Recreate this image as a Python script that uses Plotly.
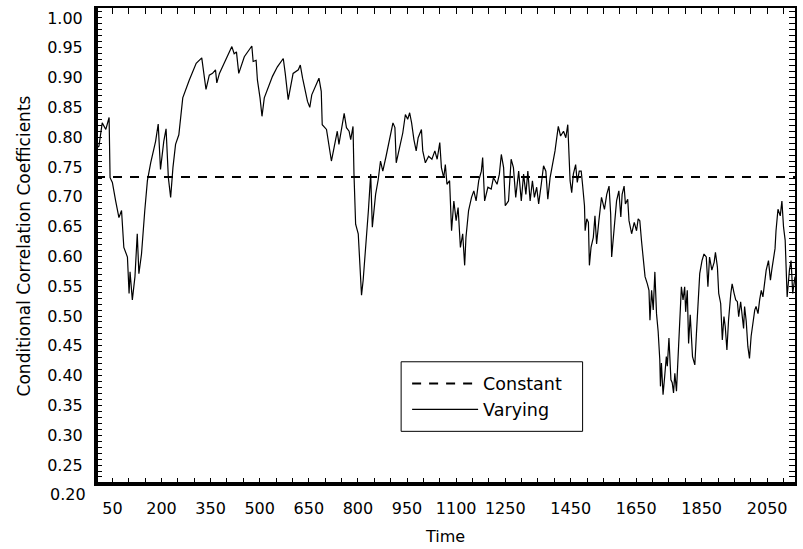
import numpy as np
import plotly.graph_objects as go

# ---- data ----
time = [1, 3, 9, 19, 30, 40, 43, 50, 60, 70, 78, 85, 96, 101, 104, 111, 119, 126, 131, 139,
        149, 157, 167, 174, 182, 190, 197, 207, 214, 221, 228, 235, 243, 253, 265, 285, 306, 323, 328, 336,
        346, 356, 365, 369, 377, 397, 415, 422, 429, 436, 453, 476, 480, 489, 493, 501, 507, 514, 524, 539,
        554, 572, 578, 587, 602, 610, 618, 624, 631, 646, 653, 659, 671, 681, 688, 691, 704, 712, 719, 727,
        737, 742, 758, 765, 773, 778, 785, 788, 793, 801, 808, 811, 816, 824, 832, 839, 844, 854, 862, 869,
        876, 886, 895, 907, 913, 917, 927, 937, 945, 952, 958, 964, 971, 978, 984, 994, 998, 1006, 1016, 1026,
        1035, 1042, 1050, 1055, 1062, 1067, 1072, 1080, 1086, 1093, 1100, 1106, 1113, 1120, 1126, 1130, 1138, 1147, 1154, 1161,
        1169, 1177, 1181, 1187, 1197, 1207, 1214, 1225, 1232, 1238, 1245, 1250, 1260, 1268, 1275, 1282, 1291, 1299, 1306, 1313,
        1319, 1326, 1333, 1339, 1346, 1352, 1360, 1367, 1374, 1380, 1387, 1394, 1402, 1412, 1419, 1428, 1435, 1441, 1445, 1448,
        1453, 1458, 1465, 1470, 1476, 1482, 1486, 1492, 1494, 1499, 1504, 1507, 1512, 1519, 1524, 1529, 1536, 1544, 1553, 1560,
        1567, 1572, 1575, 1583, 1590, 1597, 1603, 1607, 1613, 1617, 1624, 1628, 1636, 1644, 1651, 1656, 1661, 1666, 1671, 1677,
        1684, 1689, 1692, 1697, 1702, 1707, 1712, 1717, 1722, 1724, 1727, 1732, 1737, 1742, 1745, 1750, 1756, 1760, 1764, 1768,
        1773, 1778, 1783, 1788, 1793, 1798, 1801, 1806, 1810, 1815, 1822, 1829, 1834, 1839, 1844, 1851, 1857, 1864, 1869, 1874,
        1881, 1888, 1892, 1898, 1902, 1908, 1913, 1918, 1922, 1927, 1932, 1939, 1943, 1949, 1954, 1959, 1963, 1969, 1973, 1978,
        1981, 1986, 1991, 1996, 2001, 2006, 2012, 2016, 2022, 2027, 2032, 2037, 2042, 2047, 2054, 2060, 2064, 2069, 2074, 2077,
        2083, 2090, 2095, 2100, 2105, 2111, 2118, 2123, 2128, 2135]

varying = [0.918, 0.782, 0.785, 0.824, 0.813, 0.833, 0.732, 0.724, 0.693, 0.665, 0.677, 0.615, 0.599, 0.538, 0.574, 0.527, 0.566, 0.638, 0.571, 0.604,
           0.677, 0.727, 0.757, 0.774, 0.793, 0.822, 0.746, 0.793, 0.814, 0.732, 0.699, 0.749, 0.788, 0.804, 0.866, 0.896, 0.924, 0.933, 0.913, 0.880,
           0.904, 0.907, 0.913, 0.891, 0.907, 0.932, 0.952, 0.940, 0.943, 0.907, 0.935, 0.953, 0.927, 0.929, 0.896, 0.866, 0.835, 0.866, 0.880, 0.902,
           0.918, 0.932, 0.907, 0.863, 0.907, 0.910, 0.913, 0.921, 0.899, 0.860, 0.850, 0.871, 0.885, 0.899, 0.877, 0.821, 0.813, 0.788, 0.760, 0.782,
           0.810, 0.788, 0.840, 0.816, 0.810, 0.796, 0.818, 0.738, 0.654, 0.638, 0.571, 0.535, 0.560, 0.615, 0.677, 0.738, 0.649, 0.704, 0.729, 0.760,
           0.743, 0.768, 0.793, 0.824, 0.816, 0.757, 0.782, 0.807, 0.838, 0.830, 0.841, 0.824, 0.796, 0.777, 0.799, 0.813, 0.777, 0.757, 0.768, 0.763,
           0.777, 0.763, 0.791, 0.749, 0.732, 0.754, 0.721, 0.727, 0.643, 0.693, 0.660, 0.682, 0.615, 0.638, 0.585, 0.632, 0.677, 0.699, 0.710, 0.693,
           0.727, 0.743, 0.766, 0.693, 0.716, 0.713, 0.732, 0.721, 0.738, 0.771, 0.749, 0.685, 0.693, 0.763, 0.749, 0.699, 0.743, 0.693, 0.738, 0.704,
           0.743, 0.693, 0.727, 0.699, 0.716, 0.688, 0.721, 0.752, 0.743, 0.696, 0.732, 0.752, 0.777, 0.818, 0.802, 0.810, 0.799, 0.821, 0.777, 0.727,
           0.707, 0.738, 0.754, 0.724, 0.743, 0.743, 0.721, 0.685, 0.643, 0.663, 0.657, 0.585, 0.615, 0.632, 0.668, 0.621, 0.660, 0.699, 0.679, 0.704,
           0.718, 0.671, 0.599, 0.654, 0.693, 0.710, 0.666, 0.704, 0.718, 0.688, 0.696, 0.660, 0.638, 0.657, 0.643, 0.663, 0.660, 0.627, 0.604, 0.566,
           0.554, 0.543, 0.493, 0.543, 0.510, 0.574, 0.504, 0.474, 0.427, 0.382, 0.421, 0.368, 0.399, 0.432, 0.416, 0.463, 0.393, 0.388, 0.371, 0.404,
           0.374, 0.427, 0.499, 0.549, 0.527, 0.549, 0.507, 0.543, 0.454, 0.502, 0.432, 0.418, 0.471, 0.527, 0.571, 0.593, 0.604, 0.599, 0.549, 0.599,
           0.577, 0.590, 0.607, 0.582, 0.538, 0.521, 0.460, 0.499, 0.482, 0.443, 0.493, 0.538, 0.554, 0.538, 0.527, 0.524, 0.499, 0.524, 0.504, 0.479,
           0.516, 0.491, 0.449, 0.429, 0.466, 0.488, 0.510, 0.516, 0.504, 0.527, 0.543, 0.532, 0.554, 0.577, 0.593, 0.560, 0.577, 0.599, 0.613, 0.643,
           0.679, 0.668, 0.693, 0.649, 0.627, 0.532, 0.577, 0.593, 0.538, 0.566]

constant_value = 0.733
constant_time = [0, 2135]

x_label_values = [50, 200, 350, 500, 650, 800, 950, 1100, 1250, 1450, 1650, 1850, 2050]
y_label_values = [0.25, 0.30, 0.35, 0.40, 0.45, 0.50, 0.55, 0.60, 0.65, 0.70, 0.75, 0.80, 0.85, 0.90, 0.95, 1.00]
y_bottom_label = 0.20

# ---- figure ----
FONT = "DejaVu Sans"
x_range = [0, 2135]
y_range = [0.2182, 1.0167]
L, R, T, B = 96, 6, 6, 64
W, H = 803, 549
pw, ph = W - L - R, H - T - B

def px_x(p):
    return (p - L) / pw

def px_y(p):
    return (H - B - p) / ph

x_ticks = list(range(0, 2136, 50))
x_text = [str(v) if v in x_label_values else "" for v in x_ticks]
y_ticks = [round(v, 2) for v in np.arange(0.22, 1.011, 0.01)]
y_text = [f"{v:.2f}" if any(abs(v - l) < 1e-6 for l in y_label_values) else "" for v in y_ticks]

fig = go.Figure()
fig.add_trace(go.Scatter(x=constant_time, y=[constant_value] * len(constant_time), mode="lines",
                         name="Constant", line=dict(color="black", width=2, dash="9px,8px")))
fig.add_trace(go.Scatter(x=time, y=varying, mode="lines", name="Varying",
                         line=dict(color="black", width=1.2)))

fig.update_layout(
    width=W, height=H,
    margin=dict(l=L, r=R, t=T, b=B),
    plot_bgcolor="white", paper_bgcolor="white",
    font=dict(family=FONT, color="black", size=16),
    showlegend=True,
    legend=dict(x=px_x(408), y=px_y(366), xanchor="left", yanchor="top",
                borderwidth=0, bgcolor="rgba(0,0,0,0)",
                font=dict(size=17.5, family=FONT), itemwidth=66),
    xaxis=dict(range=x_range, tickvals=x_ticks, ticktext=x_text, ticks="inside", ticklen=6,
               tickcolor="black", tickwidth=1, showline=True, linecolor="black", linewidth=2,
               mirror="ticks", showgrid=False, zeroline=False,
               tickfont=dict(size=16, family=FONT), ticklabelstandoff=9,
               title=dict(text="Time", font=dict(size=16, family=FONT), standoff=14)),
    yaxis=dict(range=y_range, tickvals=y_ticks, ticktext=y_text, ticks="inside", ticklen=6,
               tickcolor="black", tickwidth=1, showline=True, linecolor="black", linewidth=2,
               mirror="ticks", showgrid=False, zeroline=False,
               tickfont=dict(size=16, family=FONT), ticklabelstandoff=8,
               title=dict(text="Conditional Correlation Coefficients", font=dict(size=17, family=FONT),
                          standoff=12)),
)

# thicker left and bottom frame lines
fig.add_shape(type="line", xref="paper", yref="paper", x0=0, x1=0, y0=0, y1=1,
              line=dict(color="black", width=4))
fig.add_shape(type="line", xref="paper", yref="paper", x0=0, x1=1, y0=0, y1=0,
              line=dict(color="black", width=4))

# legend frame
fig.add_shape(type="rect", xref="paper", yref="paper",
              x0=px_x(402), x1=px_x(584), y0=px_y(432), y1=px_y(362),
              line=dict(color="black", width=1), fillcolor="rgba(0,0,0,0)")

# bottom 0.20 label sits just below the frame
y_lab = (y_bottom_label - y_range[0]) / (y_range[1] - y_range[0])
fig.add_annotation(x=0, xref="paper", y=y_lab, yref="paper", text=f"{y_bottom_label:.2f}",
                   showarrow=False, xanchor="right", yanchor="middle", xshift=-8,
                   font=dict(size=16, family=FONT))

fig.write_html("out.html")
